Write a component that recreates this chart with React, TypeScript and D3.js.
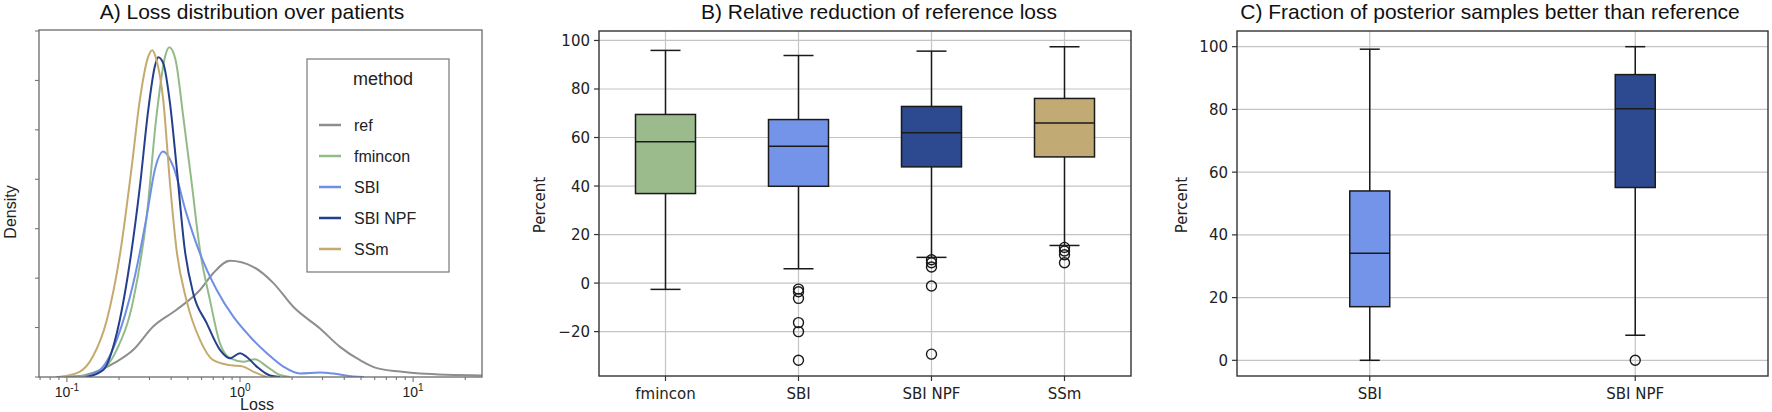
import React from 'react';
import * as d3 from 'd3';

// ---- Panel A: density of loss per method, [loss, density]
const densityMethods = ['ref', 'fmincon', 'SBI', 'SBI NPF', 'SSm'];
const densityColors = ['#8e8e8e', '#92bb88', '#6f8fe6', '#243f8c', '#c4aa6e'];

const refDensity: [number, number][] = [
  [0.087, 0], [0.119, 0.02], [0.155, 0.14], [0.194, 0.31], [0.242, 0.55], [0.315, 1.02],
  [0.43, 1.36], [0.587, 1.76], [0.7, 2.1], [0.875, 2.35], [1.19, 2.23], [1.56, 1.9],
  [2.03, 1.42], [2.9, 0.98], [3.78, 0.61], [4.94, 0.34], [6.17, 0.18], [8.4, 0.11],
  [11, 0.07], [25, 0.03],
];
const fminconDensity: [number, number][] = [
  [0.114, 0], [0.155, 0.11], [0.194, 0.55], [0.242, 1.56], [0.289, 3.25], [0.329, 5.27],
  [0.369, 6.48], [0.39, 6.67], [0.424, 6.42], [0.47, 5.27], [0.526, 3.92], [0.587, 2.57],
  [0.67, 1.56], [0.766, 0.68], [0.875, 0.38], [1.045, 0.31], [1.22, 0.36], [1.43, 0.21],
  [1.7, 0.04], [1.95, 0],
];
const sbiDensity: [number, number][] = [
  [0.124, 0], [0.155, 0.14], [0.194, 0.75], [0.242, 1.9], [0.289, 3.25], [0.322, 4.19],
  [0.36, 4.56], [0.411, 4.26], [0.49, 3.31], [0.587, 2.5], [0.734, 1.76], [0.915, 1.22],
  [1.14, 0.82], [1.43, 0.48], [1.78, 0.21], [2.22, 0.07], [2.9, 0.09], [3.46, 0.07],
  [4.5, 0.01], [5.2, 0],
];
const npfDensity: [number, number][] = [
  [0.13, 0], [0.162, 0.14], [0.194, 0.88], [0.229, 2.23], [0.264, 3.85], [0.295, 5.4],
  [0.322, 6.28], [0.337, 6.47], [0.36, 6.35], [0.394, 5.54], [0.43, 4.26], [0.48, 2.57],
  [0.537, 1.69], [0.642, 1.09], [0.766, 0.55], [0.875, 0.38], [1.0, 0.48], [1.09, 0.41],
  [1.25, 0.21], [1.49, 0.03], [1.7, 0],
];
const ssmDensity: [number, number][] = [
  [0.091, 0], [0.119, 0.11], [0.141, 0.41], [0.17, 1.15], [0.203, 2.5], [0.237, 4.26],
  [0.264, 5.61], [0.295, 6.48], [0.311, 6.61], [0.329, 6.42], [0.36, 5.61], [0.394, 3.92],
  [0.43, 2.57], [0.49, 1.56], [0.587, 0.75], [0.7, 0.34], [0.875, 0.24], [1.045, 0.21],
  [1.19, 0.11], [1.43, 0],
];
const densitySeries = [refDensity, fminconDensity, sbiDensity, npfDensity, ssmDensity];
const densityTicks = [0, 1, 2, 3, 4, 5, 6, 7];
const lossMajorTicks = [0.1, 1, 10];
const lossTickExponents = ['-1', '0', '1'];

// ---- Panel B: relative reduction of reference loss (percent)
const reductionCategories = ['fmincon', 'SBI', 'SBI NPF', 'SSm'];
const reductionFills = ['#9bbb8d', '#7394e8', '#2d4a90', '#c2aa74'];
const reductionLow = [-2.6, 5.9, 10.6, 15.5];
const reductionQ1 = [36.9, 39.9, 47.9, 52];
const reductionMedian = [58.3, 56.4, 62, 66];
const reductionQ3 = [69.5, 67.4, 72.8, 76.1];
const reductionHigh = [95.9, 93.8, 95.6, 97.4];
const reductionOutliers = [
  [],
  [-2.5, -3.6, -6.3, -16.3, -20, -31.8],
  [9.6, 8.4, 6.6, -1.2, -29.3],
  [14.7, 13.2, 11.7, 8.4],
];
const reductionTicks = [-20, 0, 20, 40, 60, 80, 100];

// ---- Panel C: fraction of posterior samples better than reference (percent)
const fractionCategories = ['SBI', 'SBI NPF'];
const fractionFills = ['#7394e8', '#2d4a90'];
const fractionLow = [0, 8];
const fractionQ1 = [17.1, 55.1];
const fractionMedian = [34.1, 80.2];
const fractionQ3 = [54, 91.1];
const fractionHigh = [99.2, 100];
const fractionOutliers = [[], [0]];
const fractionTicks = [0, 20, 40, 60, 80, 100];

const ARIAL = '"Liberation Sans", Arial, sans-serif';
const DEJAVU = '"DejaVu Sans", sans-serif';

const DensityPanel = () => {
  const left = 39, right = 482, top = 30, bottom = 377;
  const x = d3.scaleLog().domain([0.069, 25]).range([left, right]);
  const y = d3.scaleLinear().domain([0, 7.02]).range([bottom, top]);
  const line = d3
    .line<[number, number]>()
    .x((d) => x(d[0]))
    .y((d) => y(d[1]))
    .curve(d3.curveMonotoneX);

  const minor: number[] = [];
  [0.01, 0.1, 1, 10].forEach((dec) => {
    for (let k = 2; k <= 9; k++) {
      const v = dec * k;
      if (v >= 0.069 && v <= 25) minor.push(v);
    }
  });

  return (
    <g>
      <text x={252} y={19} textAnchor="middle" fontFamily={ARIAL} fontSize={21} fill="#111">
        A) Loss distribution over patients
      </text>
      <defs>
        <clipPath id="clipA">
          <rect x={left} y={top} width={right - left} height={bottom - top} />
        </clipPath>
      </defs>
      <g clipPath="url(#clipA)">
        {densitySeries.map((s, i) => (
          <path key={i} d={line(s) ?? ''} fill="none" stroke={densityColors[i]} strokeWidth={2} />
        ))}
      </g>
      <rect x={left} y={top} width={right - left} height={bottom - top} fill="none" stroke="#6a6a6a" strokeWidth={1.3} />
      {densityTicks.map((t) => (
        <line key={t} x1={left - 4} x2={left} y1={y(t)} y2={y(t)} stroke="#6a6a6a" strokeWidth={1} />
      ))}
      {minor.map((t) => (
        <line key={t} x1={x(t)} x2={x(t)} y1={bottom} y2={bottom + 3} stroke="#6a6a6a" strokeWidth={1} />
      ))}
      {lossMajorTicks.map((t, i) => (
        <g key={t}>
          <line x1={x(t)} x2={x(t)} y1={bottom} y2={bottom + 5} stroke="#6a6a6a" strokeWidth={1} />
          <text x={x(t)} y={bottom + 20} textAnchor="middle" fontFamily={ARIAL} fontSize={14} fill="#222">
            10
            <tspan fontSize={10} dy={-6}>{lossTickExponents[i]}</tspan>
          </text>
        </g>
      ))}
      <text x={257} y={410} textAnchor="middle" fontFamily={ARIAL} fontSize={16} fill="#222">
        Loss
      </text>
      <text
        transform={`translate(16,212) rotate(-90)`}
        textAnchor="middle"
        fontFamily={ARIAL}
        fontSize={16}
        fill="#222"
      >
        Density
      </text>
      {/* legend */}
      <rect x={307} y={59} width={142} height={213} fill="#fff" stroke="#777" strokeWidth={1.2} />
      <text x={383} y={85} textAnchor="middle" fontFamily={ARIAL} fontSize={18} fill="#222">
        method
      </text>
      {densityMethods.map((m, i) => {
        const ly = 125 + i * 31;
        return (
          <g key={m}>
            <line x1={319} x2={341} y1={ly} y2={ly} stroke={densityColors[i]} strokeWidth={2.5} />
            <text x={354} y={ly + 5.5} fontFamily={ARIAL} fontSize={16} fill="#222">
              {m}
            </text>
          </g>
        );
      })}
    </g>
  );
};

interface BoxPanelProps {
  left: number;
  right: number;
  title: string;
  titleX: number;
  labelX: number;
  categories: string[];
  fills: string[];
  low: number[];
  q1: number[];
  median: number[];
  q3: number[];
  high: number[];
  outliers: number[][];
  ticks: number[];
  domain: [number, number];
  boxWidth: number;
}

const BoxPanel = (p: BoxPanelProps) => {
  const top = 31, bottom = 376;
  const x = d3.scalePoint<string>().domain(p.categories).range([p.left, p.right]).padding(0.5);
  const y = d3.scaleLinear().domain(p.domain).range([bottom, top]);
  const hw = p.boxWidth / 2;
  const cw = p.boxWidth / 4;
  return (
    <g>
      <text x={p.titleX} y={19} textAnchor="middle" fontFamily={ARIAL} fontSize={21} fill="#111">
        {p.title}
      </text>
      {p.ticks.map((t) => (
        <line key={t} x1={p.left} x2={p.right} y1={y(t)} y2={y(t)} stroke="#c4c4c4" strokeWidth={1.2} />
      ))}
      {p.categories.map((c) => (
        <line key={c} x1={x(c)!} x2={x(c)!} y1={top} y2={bottom} stroke="#c4c4c4" strokeWidth={1.2} />
      ))}
      {p.categories.map((c, i) => {
        const cx = x(c)!;
        return (
          <g key={c} stroke="#1a1a1a" strokeWidth={1.5}>
            <line x1={cx} x2={cx} y1={y(p.q3[i])} y2={y(p.high[i])} />
            <line x1={cx} x2={cx} y1={y(p.q1[i])} y2={y(p.low[i])} />
            <line x1={cx - cw} x2={cx + cw} y1={y(p.high[i])} y2={y(p.high[i])} />
            <line x1={cx - cw} x2={cx + cw} y1={y(p.low[i])} y2={y(p.low[i])} />
            <rect
              x={cx - hw}
              y={y(p.q3[i])}
              width={p.boxWidth}
              height={y(p.q1[i]) - y(p.q3[i])}
              fill={p.fills[i]}
            />
            <line x1={cx - hw} x2={cx + hw} y1={y(p.median[i])} y2={y(p.median[i])} />
            {p.outliers[i].map((o, j) => (
              <circle key={j} cx={cx} cy={y(o)} r={5} fill="none" strokeWidth={1.4} />
            ))}
          </g>
        );
      })}
      <rect x={p.left} y={top} width={p.right - p.left} height={bottom - top} fill="none" stroke="#333" strokeWidth={1.4} />
      {p.ticks.map((t) => (
        <g key={t}>
          <line x1={p.left - 5} x2={p.left} y1={y(t)} y2={y(t)} stroke="#333" strokeWidth={1.2} />
          <text x={p.left - 9} y={y(t) + 5.5} textAnchor="end" fontFamily={DEJAVU} fontSize={15} fill="#222">
            {t < 0 ? `\u2212${-t}` : t}
          </text>
        </g>
      ))}
      {p.categories.map((c) => (
        <g key={c}>
          <line x1={x(c)!} x2={x(c)!} y1={bottom} y2={bottom + 5} stroke="#333" strokeWidth={1.2} />
          <text x={x(c)!} y={bottom + 23} textAnchor="middle" fontFamily={DEJAVU} fontSize={15} fill="#222">
            {c}
          </text>
        </g>
      ))}
      <text
        transform={`translate(${p.labelX},205) rotate(-90)`}
        textAnchor="middle"
        fontFamily={DEJAVU}
        fontSize={15}
        fill="#222"
      >
        Percent
      </text>
    </g>
  );
};

const App = () => {
  return (
    <svg
      width={1772}
      height={412}
      style={{ position: 'absolute', left: 0, top: 0, background: '#fff', display: 'block' }}
    >
      <rect width={1772} height={412} fill="#fff" />
      <DensityPanel />
      <BoxPanel
        left={599}
        right={1131}
        title="B) Relative reduction of reference loss"
        titleX={879}
        labelX={545}
        categories={reductionCategories}
        fills={reductionFills}
        low={reductionLow}
        q1={reductionQ1}
        median={reductionMedian}
        q3={reductionQ3}
        high={reductionHigh}
        outliers={reductionOutliers}
        ticks={reductionTicks}
        domain={[-38.3, 103.9]}
        boxWidth={60}
      />
      <BoxPanel
        left={1237}
        right={1768}
        title="C) Fraction of posterior samples better than reference"
        titleX={1490}
        labelX={1187}
        categories={fractionCategories}
        fills={fractionFills}
        low={fractionLow}
        q1={fractionQ1}
        median={fractionMedian}
        q3={fractionQ3}
        high={fractionHigh}
        outliers={fractionOutliers}
        ticks={fractionTicks}
        domain={[-5, 105]}
        boxWidth={40}
      />
    </svg>
  );
};

export default App;
